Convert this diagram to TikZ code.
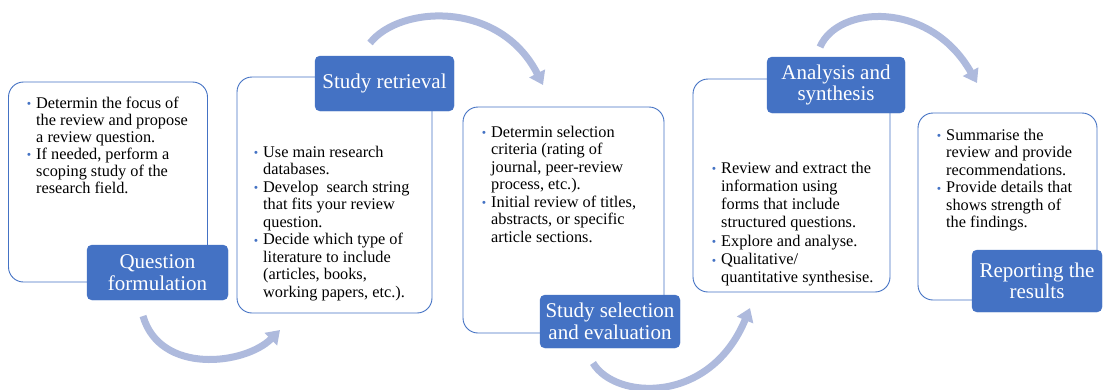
\documentclass[tikz,border=0pt]{standalone}
\usepackage{fontspec}
\setmainfont{Liberation Serif}
\newfontfamily\bulfont{Liberation Sans}
\usetikzlibrary{arrows.meta}
\definecolor{accent}{HTML}{4472C4}
\definecolor{arrowc}{HTML}{AEBADD}
\newcommand\bitem{\makebox[9pt][l]{\textcolor{accent}{\bulfont\fontsize{11}{11}\selectfont\raisebox{0.5pt}{•}}}}
\newcommand\cnt{\hspace*{9pt}}
\tikzset{
  card/.style={draw=accent, line width=0.9pt, rounded corners=15pt, fill=white, inner sep=0pt},
  tag/.style={fill=accent, draw=accent, rounded corners=5pt, text=white, align=center, inner sep=0pt,
    font=\fontsize{21}{21.5}\selectfont},
  body/.style={anchor=north west, inner sep=0pt, align=left, text=black},
  flow/.style={draw=arrowc, line width=7pt, -{Triangle[width=17pt,length=13pt]}}
}
\begin{document}
\begin{tikzpicture}[x=1pt,y=-1pt]
\useasboundingbox[fill=white] (0,0) rectangle (1103,389);
% arrows
\coordinate (a1s) at (143,316); \coordinate (a1e) at (280,330);
\coordinate (a2s) at (370,43);  \coordinate (a2e) at (543,85);
\coordinate (a3s) at (593,363); \coordinate (a3e) at (750,308);
\coordinate (a4s) at (820,47);  \coordinate (a4e) at (977,83);
\draw[flow] (a1s) .. controls (160,375) and (245,365) .. (a1e);
\draw[flow] (a2s) .. controls (400,5) and (500,0) .. (a2e);
\draw[flow] (a3s) .. controls (615,400) and (710,405) .. (a3e);
\draw[flow] (a4s) .. controls (838,5) and (930,0) .. (a4e);
% cards
\node[card, minimum width=199pt, minimum height=200pt] (c1) at (108,182) {};
\node[card, minimum width=195pt, minimum height=236pt] (c2) at (334.5,195) {};
\node[card, minimum width=201pt, minimum height=226pt] (c3) at (563.5,220) {};
\node[card, minimum width=197pt, minimum height=213pt] (c4) at (791.5,185.5) {};
\node[card, minimum width=179pt, minimum height=187pt] (c5) at (1007.5,206.5) {};
% texts
\node[body, font=\fontsize{16.3}{17}\selectfont] (t1) at (27,96.5) {%
\bitem Determin the focus of\\\cnt the review and propose\\\cnt a review question.\\%
\bitem If needed, perform a\\\cnt scoping study of the\\\cnt research field.};
\node[body, font=\fontsize{16.3}{17.5}\selectfont] (t2) at (254,145.5) {%
\bitem Use main research\\\cnt databases.\\%
\bitem Develop\ \ search string\\\cnt that fits your review\\\cnt question.\\%
\bitem Decide which type of\\\cnt literature to include\\\cnt (articles, books,\\\cnt working papers, etc.).};
\node[body, font=\fontsize{16.3}{17.5}\selectfont] (t3) at (482,125.5) {%
\bitem Determin selection\\\cnt criteria (rating of\\\cnt journal, peer-review\\\cnt process, etc.).\\%
\bitem Initial review of titles,\\\cnt abstracts, or specific\\\cnt article sections.};
\node[body, font=\fontsize{16.3}{18.3}\selectfont] (t4) at (712,161.5) {%
\bitem Review and extract the\\\cnt information using\\\cnt forms that include\\\cnt structured questions.\\%
\bitem Explore and analyse.\\%
\bitem Qualitative/\\\cnt quantitative synthesise.};
\node[body, font=\fontsize{16.3}{17.5}\selectfont] (t5) at (937,128.5) {%
\bitem Summarise the\\\cnt review and provide\\\cnt recommendations.\\%
\bitem Provide details that\\\cnt shows strength of\\\cnt the findings.};
% tags
\node[tag, minimum width=141pt, minimum height=55pt] (l1) at (157.5,272.5) {Question\\formulation};
\node[tag, minimum width=139pt, minimum height=55pt] (l2) at (384.5,83.5) {Study retrieval};
\node[tag, minimum width=140pt, minimum height=53pt] (l3) at (610,321.5) {Study selection\\and evaluation};
\node[tag, minimum width=138pt, minimum height=56pt] (l4) at (836,85) {Analysis and\\synthesis};
\node[tag, minimum width=130pt, minimum height=62pt] (l5) at (1037,281) {Reporting the\\results};
\end{tikzpicture}
\end{document}
